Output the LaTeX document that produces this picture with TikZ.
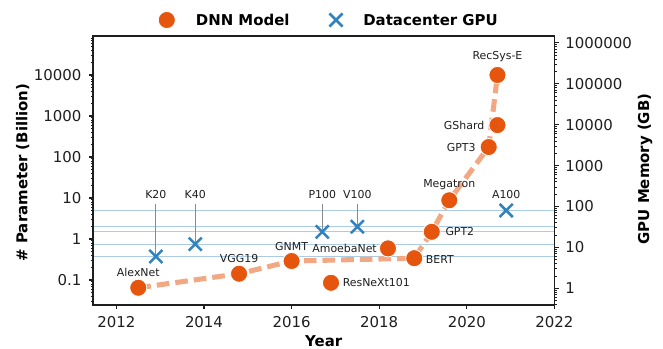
\documentclass[tikz,border=0pt]{standalone}
\usepackage{fontspec}
\setmainfont{DejaVu Sans}
\usetikzlibrary{positioning,shapes.misc}

\definecolor{dnnorange}{RGB}{230,85,13}
\definecolor{trendorange}{RGB}{243,168,132}
\definecolor{gpublue}{RGB}{49,130,189}
\definecolor{memblue}{RGB}{172,204,229}
\definecolor{inkgray}{RGB}{30,30,30}

\pgfdeclarelayer{bg}
\pgfsetlayers{bg,main}

\begin{document}
\begin{tikzpicture}[x=0.75pt, y=0.75pt,
    declare function={yr(\t)=\t-2012;},
    tick/.style={inkgray, line width=0.8pt},
    minortick/.style={inkgray, line width=0.6pt},
    ticklbl/.style={font=\fontsize{11.2}{13}\selectfont, text=inkgray, inner sep=0pt},
    axlbl/.style={font=\fontsize{11.2}{13}\selectfont\bfseries, inner sep=0pt},
    ptlbl/.style={font=\fontsize{8.2}{10}\selectfont, text=inkgray, inner sep=0pt},
    dnn/.style={circle, fill=dnnorange, draw=white, line width=0.6pt, inner sep=0pt, minimum size=12.8pt},
    gpu/.style={cross out, draw=gpublue, line width=1.9pt, inner sep=0pt, minimum size=7.9pt},
    memline/.style={memblue, line width=0.8pt},
    leader/.style={black!45, line width=0.7pt},
    trend/.style={trendorange, line width=3.8pt, line join=round, dash pattern=on 9.5pt off 4.5pt}]
  \useasboundingbox (0,0) rectangle (663,349);

  % axes box and label row of the gpus
  \coordinate (sw) at (93,44);
  \coordinate (ne) at (554.4,313);
  \coordinate (gpulbl) at (0,150);

  % dnn models, left axis: log10 of billions
  \begin{scope}[shift={(116.4,110)}, x=32.85pt, y=30.75pt]
    \node (alexnet)  [dnn] at ({yr(2012.5)},{log10(0.063)}) {};
    \node (vgg)      [dnn] at ({yr(2014.8)},{log10(0.14)}) {};
    \node (gnmt)     [dnn] at ({yr(2016.0)},{log10(0.29)}) {};
    \node (resnext)  [dnn] at ({yr(2016.9)},{log10(0.085)}) {};
    \node (amoeba)   [dnn] at ({yr(2018.2)},{log10(0.59)}) {};
    \node (bert)     [dnn] at ({yr(2018.8)},{log10(0.34)}) {};
    \node (gpttwo)   [dnn] at ({yr(2019.2)},{log10(1.5)}) {};
    \node (megatron) [dnn] at ({yr(2019.6)},{log10(8.8)}) {};
    \node (gptthree) [dnn] at ({yr(2020.5)},{log10(175)}) {};
    \node (gshard)   [dnn] at ({yr(2020.7)},{log10(600)}) {};
    \node (recsys)   [dnn] at ({yr(2020.7)},{log10(10000)}) {};
  \end{scope}

  \node (alexnett)  [ptlbl, above=1.2pt of alexnet] {AlexNet};
  \node (vggt)      [ptlbl, above=1.7pt of vgg] {VGG19};
  \node (gnmtt)     [ptlbl, above=1.2pt of gnmt] {GNMT};
  \node (resnextt)  [ptlbl, right=1.9pt of resnext] {ResNeXt101};
  \node (amoebat)   [ptlbl, left=1.5pt of amoeba] {AmoebaNet};
  \node (bertt)     [ptlbl, right=1.9pt of bert, yshift=-0.8pt] {BERT};
  \node (gpttwot)   [ptlbl, right=3.4pt of gpttwo] {GPT2};
  \node (megatront) [ptlbl, above=1.2pt of megatron] {Megatron};
  \node (gptthreet) [ptlbl, left=3pt of gptthree] {GPT3};
  \node (gshardt)   [ptlbl, left=3pt of gshard] {GShard};
  \node (recsyst)   [ptlbl, above=3pt of recsys] {RecSys-E};

  % datacenter gpus, right axis: log10 of GB
  \begin{scope}[shift={(116.4,60.7)}, x=32.85pt, y=30.675pt]
    \node (k20)  [gpu] at ({yr(2012.9)},{log10(6)}) {};
    \node (k40)  [gpu] at ({yr(2013.8)},{log10(12)}) {};
    \node (p100) [gpu] at ({yr(2016.7)},{log10(24)}) {};
    \node (v100) [gpu] at ({yr(2017.5)},{log10(32)}) {};
    \node (a100) [gpu] at ({yr(2020.9)},{log10(80)}) {};
    \begin{pgfonlayer}{bg}
      \foreach \gb in {6,12,24,32,80}
        \draw[memline] (-0.534,{log10(\gb)}) -- (10,{log10(\gb)});
    \end{pgfonlayer}
  \end{scope}

  \node (k20t)  [ptlbl, anchor=south] at (k20 |- gpulbl) {K20};
  \node (k40t)  [ptlbl, anchor=south] at (k40 |- gpulbl) {K40};
  \node (p100t) [ptlbl, anchor=south] at (p100 |- gpulbl) {P100};
  \node (v100t) [ptlbl, anchor=south] at (v100 |- gpulbl) {V100};
  \node (a100t) [ptlbl, anchor=south] at (a100 |- gpulbl) {A100};

  \begin{pgfonlayer}{bg}
    \draw[trend] (alexnet.center) -- (vgg.center) -- (gnmt.center) -- (bert.center)
      -- (gpttwo.center) -- (megatron.center) -- (gptthree.center) -- (recsys.center);
    \foreach \g in {k20,k40,p100,v100}
      \draw[leader, shorten <=3.7pt] (\g t) -- (\g.center);
  \end{pgfonlayer}

  % axes
  \draw[inkgray, line width=1.1pt] (sw) rectangle (ne);
  \foreach \y in {2012,2014,...,2022} {
    \draw[tick] ({116.4+43.8*(\y-2012)},44) -- ++(0,-4.5);
    \node (xt\y) [ticklbl, anchor=north] at ({116.4+43.8*(\y-2012)},32.8) {\y};
  }
  \foreach \e/\v in {-1/0.1,0/1,1/10,2/100,3/1000,4/10000} {
    \draw[tick] (93,{110+41*\e}) -- ++(-4.5,0);
    \node (lt\e) [ticklbl, anchor=east] at (81.7,{110+41*\e}) {\v};
  }
  \foreach \e/\v in {0/1,1/10,2/100,3/1000,4/10000,5/100000,6/1000000} {
    \draw[tick] (554.4,{60.7+40.9*\e}) -- ++(4.5,0);
    \node (rt\e) [ticklbl, anchor=west] at (565,{60.7+40.9*\e}) {\v};
  }
  \begin{scope}
    \clip (0,44) rectangle (663,312.5);
    \foreach \e in {-2,...,4} \foreach \m in {2,...,9}
      \draw[minortick] (93,{110+41*(\e+log10(\m))}) -- ++(-2.5,0);
    \foreach \e in {-1,...,5} \foreach \m in {2,...,9}
      \draw[minortick] (554.4,{60.7+40.9*(\e+log10(\m))}) -- ++(2.5,0);
  \end{scope}

  \node (xlbl) [axlbl] at (323.7,7.4) {Year};
  \node (ylbl) [axlbl, rotate=90] at (22.7,176.5) {\# Parameter (Billion)};
  \node (rlbl) [axlbl, rotate=90] at (645,180) {GPU Memory (GB)};

  % legend
  \node (legdnn) [dnn] at (166.8,329) {};
  \node (legdnnt) [axlbl, right=14.9pt of legdnn] {DNN Model};
  \node (leggpu) [gpu] at (336,329) {};
  \node (leggput) [axlbl, right=15.4pt of leggpu] {Datacenter GPU};
\end{tikzpicture}
\end{document}
